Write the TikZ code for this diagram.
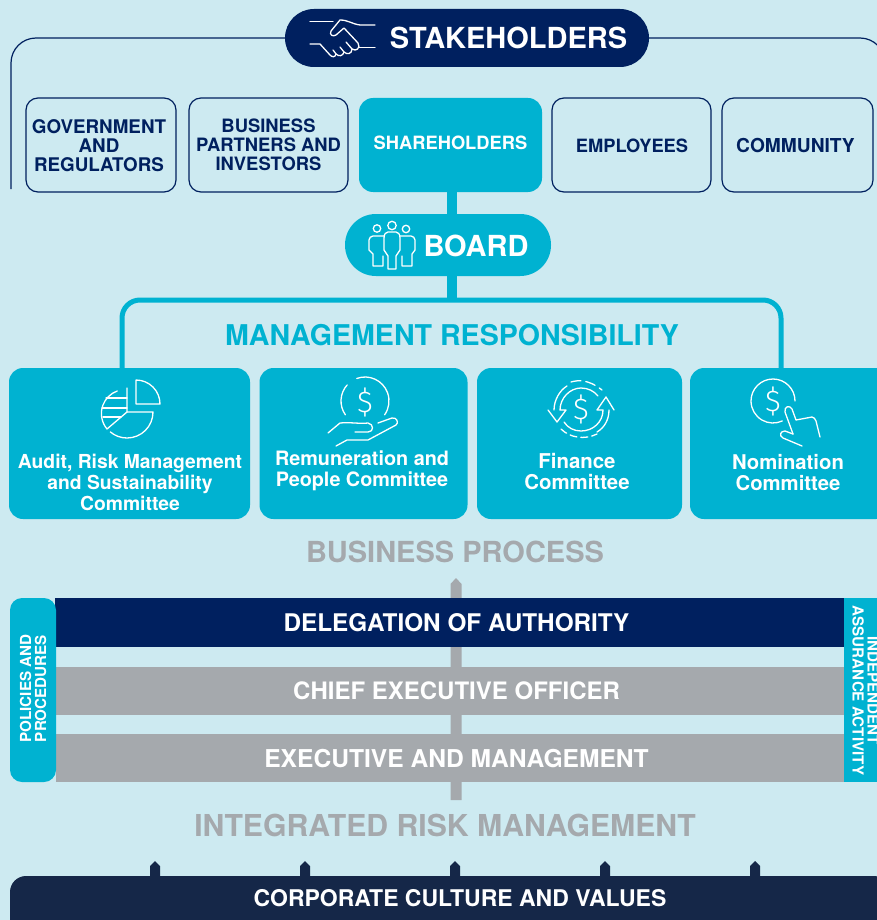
\documentclass[tikz,border=0pt]{standalone}
\usepackage{fontspec}
\setmainfont{TeX Gyre Heros}
\newfontfamily\iconfont{Fira Sans Light}
\definecolor{paleback}{HTML}{CDEAF1}
\definecolor{teal}{HTML}{00B2D1}
\definecolor{navy}{HTML}{00205F}
\definecolor{inkbar}{HTML}{152748}
\definecolor{greybar}{HTML}{A5A9AD}
\tikzset{
    outlinebox/.style={draw=navy, line width=1.2pt, rounded corners=12, minimum height=94, inner sep=0},
    tealbox/.style={fill=teal, rounded corners=14, inner sep=0},
    barbox/.style={inner sep=0, minimum width=790, minimum height=48},
    bigtitle/.style={inner sep=0, text=greybar},
    stem/.style={teal, line width=10},
    icon/.style={white, line width=1.3, line cap=round, line join=round},
    coinsign/.style={inner sep=0, text=white, font=\iconfont\fontsize{30}{30}\selectfont},
    tabtext/.style={inner sep=0, text=white, align=center, font=\bfseries\fontsize{15.2}{15}\selectfont}
}
\begin{document}
\begin{tikzpicture}[x=1pt, y=-1pt]
    \clip (0,0) rectangle (877,920);
    \fill[paleback] (0,0) rectangle (877,920);

    % 좌표
    \coordinate (railL) at (11,189);
    \coordinate (railR) at (885,189);
    \coordinate (stemtop) at (452,300);
    \coordinate (mgmtL) at (122,300);
    \coordinate (mgmtR) at (781,300);

    % stakeholders
    \node[fill=navy, rounded corners=28.9, minimum width=364, minimum height=58, inner sep=0] (stake) at (467,38) {};
    \node[inner sep=0, text=white, font=\bfseries\fontsize{29}{30}\selectfont] (staketext) at (508.5,38) {STAKEHOLDERS};
    \draw[navy, line width=1.2pt, rounded corners=25] (stake.west) -- (stake.west -| railL) -- (railL);
    \draw[navy, line width=1.2pt, rounded corners=25] (stake.east) -- (stake.east -| railR) -- (railR);

    \foreach \boxname/\cx/\boxwd in {gov/101/150, partners/268.5/159, employees/631.5/159, community/797.5/151} {
        \node[outlinebox, minimum width=\boxwd] (\boxname) at (\cx,145) {};
    }
    \node[tealbox, minimum width=183, minimum height=94] (share) at (450.5,145) {};
    \foreach \labelname/\cx/\cy/\labelsize/\labelcolor/\labeltext in {govlabel/99/146/18.8/navy/{GOVERNMENT\\AND\\REGULATORS}, partnerslabel/268.5/145/18.4/navy/{BUSINESS\\PARTNERS AND\\INVESTORS}, sharelabel/450.5/143/18.3/white/{SHAREHOLDERS}, employeeslabel/632/146/18.3/navy/{EMPLOYEES}, communitylabel/795.5/146/19.2/navy/{COMMUNITY}} {
        \node[inner sep=0, text=\labelcolor, align=center, font=\bfseries\fontsize{\labelsize}{19}\selectfont] (\labelname) at (\cx,\cy) {\labeltext};
    }

    % board
    \node[fill=teal, rounded corners=30.9, minimum width=206, minimum height=62, inner sep=0] (board) at (448,245) {};
    \node[inner sep=0, text=white, font=\bfseries\fontsize{29}{30}\selectfont] (boardtext) at (476,246) {BOARD};
    \draw[stem] (share.south -| stemtop) -- (board.north -| stemtop);
    \draw[stem] (board.south -| stemtop) -- (stemtop);

    % committees
    \node[tealbox, minimum width=241, minimum height=151] (audit) at (129.5,443.5) {};
    \node[tealbox, minimum width=208, minimum height=151] (people) at (363.5,443.5) {};
    \node[tealbox, minimum width=205, minimum height=151] (finance) at (579.5,443.5) {};
    \node[tealbox, minimum width=200, minimum height=151] (nomination) at (790,443.5) {};
    \foreach \labelname/\cx/\cy/\labelsize/\labeltext in {auditlabel/130/482/19.3/{Audit, Risk Management\\and Sustainability\\Committee}, peoplelabel/362/471/19.8/{Remuneration and\\People Committee}, financelabel/577/472/20.4/{Finance\\Committee}, nominationlabel/788/473/20.3/{Nomination\\Committee}} {
        \node[inner sep=0, text=white, align=center, font=\bfseries\fontsize{\labelsize}{21}\selectfont] (\labelname) at (\cx,\cy) {\labeltext};
    }
    \draw[teal, line width=5, rounded corners=18] (audit.north -| mgmtL) -- (mgmtL) -- (mgmtR) -- (nomination.north -| mgmtR);
    \node[bigtitle, text=teal, font=\bfseries\fontsize{28.6}{30}\selectfont] (mgmt) at (452,335) {MANAGEMENT RESPONSIBILITY};

    % business process
    \node[bigtitle, font=\bfseries\fontsize{29}{30}\selectfont] (process) at (455,552) {BUSINESS PROCESS};
    \fill[greybar] (450.5,800) -- (450.5,584) -- (456,578) -- (461.5,584) -- (461.5,800) -- cycle;
    \node[barbox, fill=navy, minimum height=49] (delegation) at (450,622.5) {};
    \node[barbox, fill=greybar] (ceo) at (450.5,691) {};
    \node[barbox, fill=greybar] (execs) at (450.5,758) {};
    \foreach \labelname/\cy/\labelsize/\labeltext in {delegationlabel/623/24.3/{DELEGATION OF AUTHORITY}, ceolabel/691/24/{CHIEF EXECUTIVE OFFICER}, execslabel/759/24.6/{EXECUTIVE AND MANAGEMENT}} {
        \node[inner sep=0, text=white, font=\bfseries\fontsize{\labelsize}{25}\selectfont] (\labelname) at (456.5,\cy) {\labeltext};
    }

    % side tabs
    \fill[teal, rounded corners=12] (56,598) -- (10,598) -- (10,782) -- (56,782) -- cycle;
    \fill[teal] (844,598) rectangle (877,782);
    \node[tabtext, rotate=90] (policies) at (33,688.5) {POLICIES AND\\PROCEDURES};
    \node[tabtext, rotate=-90] (assurance) at (865.5,690.5) {INDEPENDENT\\ASSURANCE ACTIVITY};

    % integrated risk
    \node[bigtitle, font=\bfseries\fontsize{30.2}{30}\selectfont] (risk) at (445,825) {INTEGRATED RISK MANAGEMENT};
    \foreach \tipx in {155,305,455,605,755} {
        \fill[inkbar] (\tipx-5,877) -- (\tipx-5,866) -- (\tipx,861) -- (\tipx+5,866) -- (\tipx+5,877) -- cycle;
    }
    \fill[inkbar, rounded corners=16] (890,876) -- (10,876) -- (10,935) -- (890,935) -- cycle;
    \node[inner sep=0, text=white, font=\bfseries\fontsize{23}{25}\selectfont] (culture) at (460,898) {CORPORATE CULTURE AND VALUES};

    % handshake
    \draw[icon] (310,21.5) -- (333,21.5);
    \draw[icon] (375,25) -- (360,25) .. controls (352,24) and (348,20) .. (340,20) -- (331,31) .. controls (329,35) and (333,37) .. (336,35) -- (344,28) -- (358,43) .. controls (361,48) and (356,52) .. (352,49) -- (346,42);
    \draw[icon] (352,49) .. controls (352,54) and (347,55) .. (344,52) -- (340,47);
    \draw[icon] (344,52) .. controls (343,56) and (339,57) .. (336,54) -- (333,50);
    \draw[icon] (336,54) .. controls (335,58) and (332,57) .. (330,55) -- (320,44) -- (310,44);
    \draw[icon] (359,47.5) -- (375,47.5);

    % people
    \draw[icon] (377,228.5) circle (3.7);
    \draw[icon] (392,225.5) circle (4.2);
    \draw[icon] (406,229) circle (3.7);
    \draw[icon] (388,256) -- (384,250) -- (384,238) .. controls (384,234) and (386,232) .. (388,232) -- (396,232) .. controls (398,232) and (400,234) .. (400,238) -- (400,250) -- (396,256) -- (396,269) -- (388,269) -- cycle;
    \draw[icon] (384,236) -- (373,236) .. controls (371,236) and (369,238) .. (369,240) -- (369,250) -- (373,254) -- (373,266) -- (383,266) -- (383,256);
    \draw[icon] (400,236) -- (411,236) .. controls (413,236) and (415,238) .. (415,240) -- (415,250) -- (412,254) -- (412,266) -- (402,266) -- (402,256);

    % pie chart
    \draw[icon] (136,380) -- (136,404) -- (160,404) arc[start angle=0, end angle=-90, radius=24];
    \draw[icon] (127,388) -- (127,412) -- (107,429) arc[start angle=140, end angle=250, radius=24];
    \draw[icon] (127,412) -- (153,412) arc[start angle=0, end angle=130, radius=26];
    \draw[icon] (106,398) -- (127,398);
    \draw[icon] (102,408) -- (127,408);
    \draw[icon] (103,417) -- (121,417);

    % hand and coin
    \node[coinsign] (handcoin) at (365,402) {\$};
    \draw[icon] (365,401) ++(222:24) arc[start angle=222, end angle=145, radius=24];
    \draw[icon] (365,401) ++(250:24) arc[start angle=250, end angle=395, radius=24];
    \draw[icon] (328,433) -- (340,423) .. controls (350,422) and (360,424) .. (368,423) .. controls (374,424) and (374,432) .. (368,432) -- (355,432);
    \draw[icon] (378,423) -- (392,418) .. controls (397,417) and (399,423) .. (396,425) -- (368,440) -- (347,440) -- (336,446);

    % finance arrows
    \node[coinsign] (fincoin) at (581,409) {\$};
    \draw[icon] (548,410) -- (557,422) -- (566,410) -- (560,410) .. controls (560,398) and (570,388) .. (581,388) .. controls (588,388) and (594,391) .. (598,396);
    \draw[icon] (554,410) .. controls (554,400) and (560,390) .. (567,386);
    \draw[icon] (614,410) -- (606,397) -- (597,410) -- (603,410) .. controls (603,422) and (593,431) .. (581,431) .. controls (574,431) and (568,428) .. (564,422);
    \draw[icon] (609,410) .. controls (609,420) and (604,428) .. (597,432);
    \draw[icon, dash pattern=on 10 off 5] (571,382) .. controls (578,380) and (588,379) .. (602,390);
    \draw[icon, dash pattern=on 7 off 4] (561,429) .. controls (570,438) and (585,440) .. (597,434);

    % finger and coin
    \node[coinsign] (fingercoin) at (773,401) {\$};
    \draw[icon] (773,401) ++(0:22) arc[start angle=0, end angle=-295, radius=22];
    \draw[icon] (793,434) -- (785,412) .. controls (784,406) and (790,405) .. (792,409) -- (796,420) -- (812,417) .. controls (814,417) and (815,419) .. (816,421) -- (820,437);
    \draw[icon] (793,434) -- (785,431) .. controls (780,431) and (779,436) .. (783,438) -- (802,446);
\end{tikzpicture}
\end{document}
